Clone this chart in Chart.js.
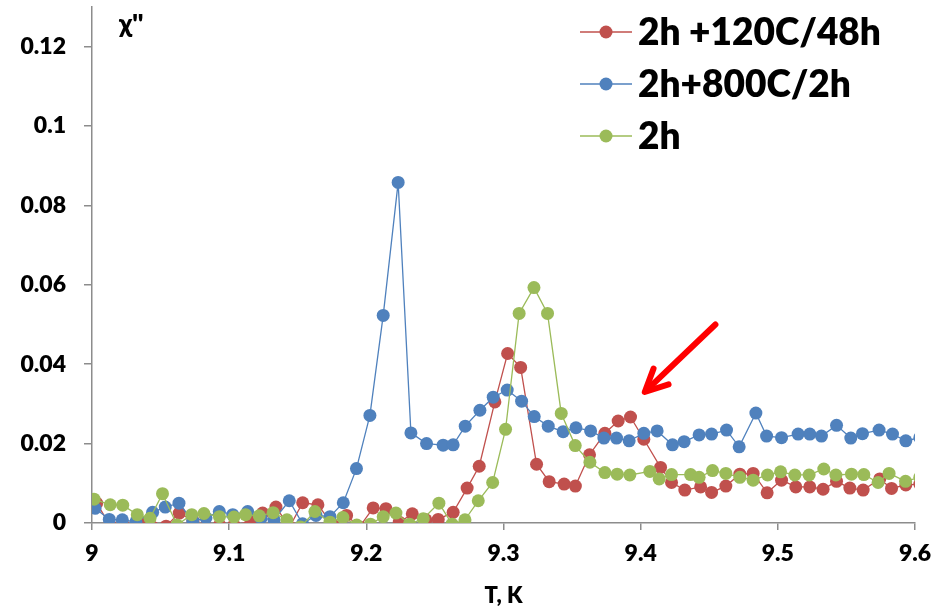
<!DOCTYPE html>
<html>
<head>
<meta charset="utf-8">
<script src="https://cdn.jsdelivr.net/npm/chart.js@4.4.1/dist/chart.umd.min.js"></script>
<style>
  html, body { margin: 0; padding: 0; background: #fff; }
  #wrap { width: 935px; height: 609px; }
</style>
</head>
<body>
<div id="wrap"><canvas id="myChart" width="935" height="609"></canvas></div>
<script>
// series names and colours (legend order)
const seriesNames = ['2h +120C/48h', '2h+800C/2h', '2h'];
const seriesColors = ['#C0504D', '#4F81BD', '#9BBB59'];

// 2h +120C/48h
const redT = [9.0034, 9.013, 9.0226, 9.035, 9.044, 9.054, 9.0636, 9.0736, 9.083, 9.093, 9.1035,
  9.1159, 9.1244, 9.1341, 9.144, 9.1536, 9.1647, 9.1756, 9.1856, 9.195, 9.2050, 9.2143, 9.2240,
  9.2335, 9.2434, 9.2524, 9.2633, 9.2735, 9.2823, 9.2937, 9.3030, 9.3125, 9.3241, 9.3333, 9.3442,
  9.3524, 9.3627, 9.3739, 9.3836, 9.3926, 9.4023, 9.4145, 9.4225, 9.4322, 9.4437, 9.4517, 9.4621,
  9.4723, 9.4820, 9.4922, 9.5027, 9.5131, 9.5233, 9.5330, 9.5428, 9.5525, 9.5622, 9.5743, 9.5829,
  9.5933, 9.6035];
const redChi = [0.0050, -0.0005, -0.0005, 0.0002, -0.001, -0.0008, 0.0025, 0.0006, -0.001, -0.0005, -0.0005,
  0.0004, 0.0025, 0.0040, -0.001, 0.0051, 0.0046, -0.0005, 0.0019, -0.001, 0.0038, 0.0036, 0.0002,
  0.0023, 0.0008, 0.0009, 0.0027, 0.0088, 0.0143, 0.0305, 0.0427, 0.0392, 0.0148, 0.0104, 0.0098,
  0.0093, 0.0172, 0.0226, 0.0257, 0.0267, 0.0211, 0.0140, 0.0102, 0.0083, 0.0091, 0.0077, 0.0093,
  0.0123, 0.0125, 0.0076, 0.0108, 0.0091, 0.0091, 0.0085, 0.0105, 0.0088, 0.0083, 0.0111, 0.0087,
  0.0096, 0.0098];

// 2h+800C/2h
const blueT = [9.0022, 9.0126, 9.0221, 9.032, 9.0442, 9.0534, 9.0634, 9.0735, 9.0831, 9.0928, 9.1026,
  9.1135, 9.1232, 9.1327, 9.1438, 9.1535, 9.1633, 9.1735, 9.1832, 9.1928, 9.2026, 9.2123, 9.2232,
  9.2325, 9.2439, 9.2560, 9.2633, 9.2721, 9.2828, 9.2925, 9.3027, 9.3132, 9.3224, 9.3326, 9.3435,
  9.3528, 9.3635, 9.3732, 9.3824, 9.3916, 9.4023, 9.4120, 9.4232, 9.4317, 9.4426, 9.4517, 9.4626,
  9.4718, 9.4840, 9.4918, 9.5027, 9.5148, 9.5233, 9.5318, 9.5428, 9.5532, 9.5617, 9.5738, 9.5836,
  9.5933, 9.6035];
const blueChi = [0.0037, 0.0009, 0.0008, 0.0003, 0.0027, 0.0040, 0.0050, 0.0005, 0.0013, 0.0029, 0.0021,
  0.0029, 0.0012, 0.0008, 0.0056, -0.0002, 0.0019, 0.0016, 0.0051, 0.0137, 0.0271, 0.0523, 0.0858,
  0.0227, 0.0200, 0.0196, 0.0197, 0.0244, 0.0284, 0.0317, 0.0335, 0.0307, 0.0268, 0.0244, 0.0230,
  0.0240, 0.0232, 0.0214, 0.0214, 0.0207, 0.0226, 0.0232, 0.0197, 0.0205, 0.0222, 0.0224, 0.0234,
  0.0192, 0.0277, 0.0219, 0.0215, 0.0224, 0.0224, 0.0219, 0.0246, 0.0214, 0.0225, 0.0234, 0.0224,
  0.0207, 0.0215];

// 2h
const greenT = [9.0015, 9.0133, 9.0224, 9.0330, 9.0423, 9.0514, 9.062, 9.0727, 9.0816, 9.0929, 9.1035,
  9.1119, 9.1219, 9.1321, 9.1421, 9.152, 9.1625, 9.1735, 9.1829, 9.193, 9.203, 9.2123, 9.2216,
  9.2315, 9.2415, 9.2529, 9.2625, 9.2719, 9.2816, 9.2921, 9.3015, 9.3114, 9.3222, 9.3321, 9.3421,
  9.3523, 9.3630, 9.3739, 9.3829, 9.3921, 9.4067, 9.4135, 9.4225, 9.4364, 9.4426, 9.4524, 9.4621,
  9.4723, 9.4820, 9.4925, 9.5020, 9.5124, 9.5228, 9.5335, 9.5423, 9.5537, 9.5627, 9.5731, 9.5811,
  9.5931, 9.6035];
const greenChi = [0.0060, 0.0046, 0.0045, 0.0021, 0.0012, 0.0074, -0.0005, 0.0021, 0.0024, 0.0016, 0.0015,
  0.0021, 0.0018, 0.0026, 0.0008, -0.001, 0.0029, 0.0002, 0.0014, -0.0005, -0.0003, 0.0016, 0.0025,
  -0.0003, 0.0011, 0.0050, -0.0003, 0.0008, 0.0056, 0.0102, 0.0236, 0.0528, 0.0593, 0.0528, 0.0276,
  0.0195, 0.0153, 0.0127, 0.0123, 0.0121, 0.0130, 0.0111, 0.0122, 0.0122, 0.0115, 0.0132, 0.0125,
  0.0115, 0.0108, 0.0121, 0.0129, 0.0121, 0.0121, 0.0136, 0.0121, 0.0123, 0.0122, 0.0102, 0.0125,
  0.0105, 0.0115];

// axis ticks
const xTicks = [9, 9.1, 9.2, 9.3, 9.4, 9.5, 9.6];
const yTicks = [0, 0.02, 0.04, 0.06, 0.08, 0.1, 0.12];

// red arrow pointing at the small red bump (T, chi)
const arrowFrom = [9.4545, 0.0500];
const arrowTo = [9.4030, 0.0330];

const FONT = 'Lato, "Open Sans", "DejaVu Sans", sans-serif';
const W = 800;
const axisGray = '#8c8c8c';

function toPoints(ts, vs) {
  return ts.map((t, i) => ({ x: t, y: vs[i] }));
}

function makeSet(i, ts, vs, order) {
  return {
    label: seriesNames[i],
    data: toPoints(ts, vs),
    borderColor: seriesColors[i],
    backgroundColor: seriesColors[i],
    borderWidth: 1.3,
    pointRadius: 6.5,
    pointHoverRadius: 6.5,
    pointBorderWidth: 0,
    tension: 0,
    order: order
  };
}

// legend, chi label and arrow drawn on top
const extras = {
  id: 'extras',
  afterDraw(chart) {
    const ctx = chart.ctx;
    const xs = chart.scales.x, ys = chart.scales.y;
    const area = chart.chartArea;
    ctx.save();

    // y axis label
    ctx.fillStyle = '#000';
    ctx.font = W + ' 26px ' + FONT;
    ctx.textAlign = 'left';
    ctx.textBaseline = 'middle';
    ctx.fillText("\u03C7''", area.left + 27, area.top + 18);

    // legend
    const rows = [32, 84, 136];
    seriesNames.forEach((name, i) => {
      const y = rows[i];
      ctx.strokeStyle = seriesColors[i];
      ctx.lineWidth = 1.3;
      ctx.beginPath();
      ctx.moveTo(580, y);
      ctx.lineTo(632, y);
      ctx.stroke();
      ctx.fillStyle = seriesColors[i];
      ctx.beginPath();
      ctx.arc(606, y, 6.5, 0, Math.PI * 2);
      ctx.fill();
      ctx.fillStyle = '#000';
      ctx.font = W + ' 37px ' + FONT;
      ctx.textBaseline = 'middle';
      ctx.fillText(name, 638, y + 1);
    });

    // arrow
    const x0 = xs.getPixelForValue(arrowFrom[0]), y0 = ys.getPixelForValue(arrowFrom[1]);
    const x1 = xs.getPixelForValue(arrowTo[0]), y1 = ys.getPixelForValue(arrowTo[1]);
    const ang = Math.atan2(y0 - y1, x0 - x1);
    const head = 25, spread = 0.45;
    ctx.strokeStyle = '#ff0000';
    ctx.lineWidth = 6;
    ctx.lineCap = 'round';
    ctx.lineJoin = 'round';
    ctx.beginPath();
    ctx.moveTo(x0, y0);
    ctx.lineTo(x1 + 3 * Math.cos(ang), y1 + 3 * Math.sin(ang));
    ctx.stroke();
    ctx.beginPath();
    ctx.moveTo(x1 + head * Math.cos(ang - spread), y1 + head * Math.sin(ang - spread));
    ctx.lineTo(x1, y1);
    ctx.lineTo(x1 + head * Math.cos(ang + spread), y1 + head * Math.sin(ang + spread));
    ctx.stroke();
    ctx.restore();
  }
};

const ctx = document.getElementById('myChart').getContext('2d');
new Chart(ctx, {
  type: 'line',
  data: {
    datasets: [
      makeSet(0, redT, redChi, 2),
      makeSet(1, blueT, blueChi, 1),
      makeSet(2, greenT, greenChi, 0)
    ]
  },
  options: {
    responsive: false,
    animation: false,
    events: [],
    layout: { padding: { top: 7, right: 20, left: 0, bottom: 0 } },
    plugins: {
      legend: { display: false },
      tooltip: { enabled: false }
    },
    scales: {
      x: {
        type: 'linear',
        min: 9,
        max: 9.6,
        afterBuildTicks: s => { s.ticks = xTicks.map(v => ({ value: v })); },
        afterFit: s => { s.height = 86; s.paddingLeft = 0; s.paddingRight = 0; },
        ticks: {
          color: '#000',
          font: { family: FONT, size: 23, weight: W },
          padding: 10,
          maxRotation: 0,
          callback: v => String(+v.toFixed(1))
        },
        grid: { drawOnChartArea: false, drawTicks: true, tickLength: 7, color: axisGray, lineWidth: 1.5 },
        border: { display: true, color: axisGray, width: 1.5 },
        title: {
          display: true,
          text: 'T, K',
          color: '#000',
          font: { family: FONT, size: 22, weight: W },
          padding: { top: 0, bottom: 0 }
        }
      },
      y: {
        type: 'linear',
        min: 0,
        max: 0.13,
        afterBuildTicks: s => { s.ticks = yTicks.map(v => ({ value: v })); },
        afterFit: s => { s.width = 92; s.paddingTop = 0; s.paddingBottom = 0; },
        ticks: {
          color: '#000',
          font: { family: FONT, size: 23, weight: W },
          padding: 18,
          callback: v => String(+v.toFixed(2))
        },
        grid: { drawOnChartArea: false, drawTicks: true, tickLength: 8, color: axisGray, lineWidth: 1.5 },
        border: { display: true, color: axisGray, width: 1.5 }
      }
    }
  },
  plugins: [extras]
});
</script>
</body>
</html>
